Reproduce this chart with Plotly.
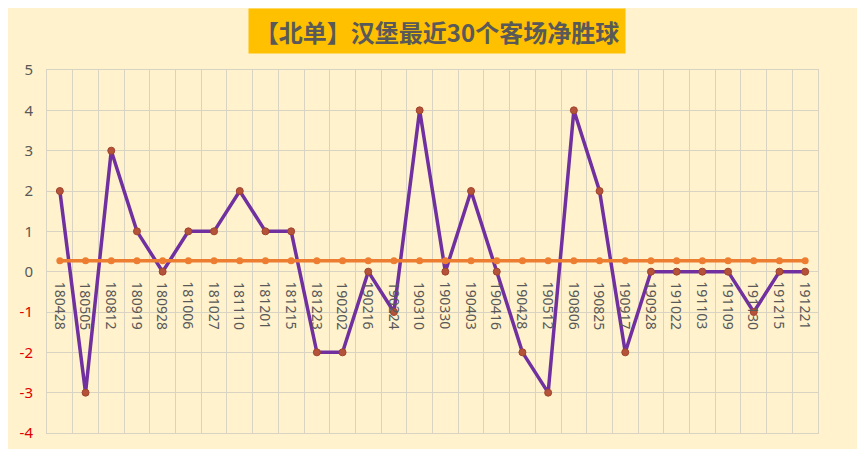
import plotly.graph_objects as go

dates = ['180428', '180505', '180812', '180919', '180928', '181006', '181027', '181110',
         '181201', '181215', '181223', '190202', '190216', '190224', '190310', '190330',
         '190403', '190416', '190428', '190512', '190806', '190825', '190917', '190928',
         '191022', '191103', '191109', '191130', '191215', '191221']
net_goals = [2, -3, 3, 1, 0, 1, 1, 2, 1, 1, -2, -2, 0, -1, 4, 0, 2, 0, -2, -3,
             4, 2, -2, 0, 0, 0, 0, -1, 0, 0]
average = [0.27] * 30
y_ticks = [5, 4, 3, 2, 1, 0, -1, -2, -3, -4]

idx = list(range(len(dates)))

fig = go.Figure()

fig.add_trace(go.Scatter(
    x=idx, y=net_goals, mode='lines+markers', name='净胜球',
    line=dict(color='#7030A0', width=3.5),
    marker=dict(color='#B5533A', size=7, line=dict(color='#A0442C', width=1)),
))
fig.add_trace(go.Scatter(
    x=idx, y=average, mode='lines+markers', name='平均',
    line=dict(color='#ED7D31', width=3.5),
    marker=dict(color='#ED7D31', size=7),
))

# category labels sit just under the zero line, rotated
for i, d in zip(idx, dates):
    fig.add_annotation(x=i, y=0, text=d, showarrow=False, textangle=90,
                       xanchor='center', yanchor='top', yshift=-8,
                       font=dict(family='Noto Sans', size=14, color='#595959'))

tick_text = []
for v in y_ticks:
    if v < 0:
        tick_text.append("<span style='color:#E00000'>%d</span>" % v)
    else:
        tick_text.append(str(v))

fig.add_annotation(
    x=0.5, y=1, xref='paper', yref='paper', yshift=39, xshift=4, showarrow=False,
    text='<b>【北单】汉堡最近30个客场净胜球</b>',
    font=dict(family='Noto Sans CJK SC', size=24, color='#595959'),
    bgcolor='#FFC000', width=374, height=42, xanchor='center', yanchor='middle',
)

fig.update_layout(
    width=865, height=449,
    paper_bgcolor='#FFF2CC', plot_bgcolor='#FFF2CC',
    margin=dict(l=33, r=55, t=62, b=24),
    showlegend=False,
    xaxis=dict(range=[-0.5, len(dates) - 0.5], tick0=-0.5, dtick=1,
               showticklabels=False, showgrid=True, gridcolor='#D8D3C3',
               zeroline=False, showline=True, linecolor='#D8D3C3', mirror=True,
               ticks=''),
    yaxis=dict(range=[-4, 5], tickvals=y_ticks, ticktext=tick_text,
               showgrid=True, gridcolor='#D8D3C3', zeroline=False,
               showline=True, linecolor='#D8D3C3', mirror=True,
               ticklabelstandoff=10,
               tickfont=dict(family='Noto Sans', size=15, color='#595959')),
)

fig.write_html("out.html")
